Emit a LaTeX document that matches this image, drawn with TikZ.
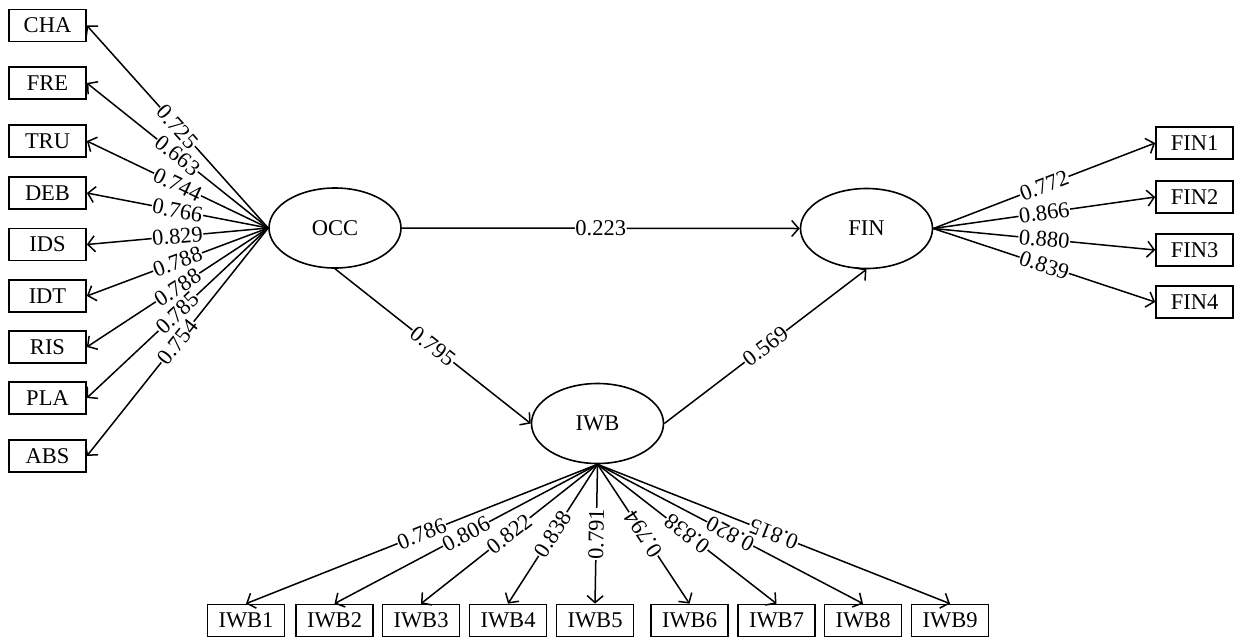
\documentclass[tikz,border=0pt]{standalone}
\usepackage{fontspec}
\setmainfont{Liberation Serif}
\usetikzlibrary{shapes.geometric,arrows.meta}
\begin{document}
\begin{tikzpicture}[x=1pt,y=-1pt,
  every node/.style={font=\fontsize{22.5}{26}\selectfont},
  ind/.style={draw,line width=1.7pt,minimum width=77pt,minimum height=32pt,inner sep=0pt},
  lat/.style={draw,ellipse,line width=1.6pt,minimum width=132pt,minimum height=80pt,inner sep=0pt},
  con/.style={line width=1.5pt,-{Straight Barb[length=7pt,width=16pt]}},
  rcon/.style={line width=1.5pt,{Straight Barb[length=7pt,width=16pt]}-},
  lbl/.style={fill=white,inner sep=0.6pt,sloped,allow upside down,midway}]
\useasboundingbox (0,0) rectangle (1234,638);
% latent variables
\node[lat] (OCC) at (335,228) {OCC};
\node[lat] (FIN) at (866.5,228.5) {FIN};
\node[lat] (IWB) at (597.5,423.5) {IWB};
% left indicators
\node[ind] (CHA) at (47.5,25.5) {CHA};
\node[ind] (FRE) at (47.5,83) {FRE};
\node[ind] (TRU) at (47.5,141) {TRU};
\node[ind] (DEB) at (47.5,193) {DEB};
\node[ind] (IDS) at (47.5,244.5) {IDS};
\node[ind] (IDT) at (47.5,296) {IDT};
\node[ind] (RIS) at (47.5,347) {RIS};
\node[ind] (PLA) at (47.5,398) {PLA};
\node[ind] (ABS) at (47.5,456) {ABS};
% FIN indicators
\node[ind] (FIN1) at (1194.5,143) {FIN1};
\node[ind] (FIN2) at (1194.5,197) {FIN2};
\node[ind] (FIN3) at (1194.5,250) {FIN3};
\node[ind] (FIN4) at (1194.5,302) {FIN4};
% IWB indicators
\node[ind] (IWB1) at (246,620.5) {IWB1};
\node[ind] (IWB2) at (334.5,620.5) {IWB2};
\node[ind] (IWB3) at (421,620.5) {IWB3};
\node[ind] (IWB4) at (508,620.5) {IWB4};
\node[ind] (IWB5) at (595,620.5) {IWB5};
\node[ind] (IWB6) at (689.5,620.5) {IWB6};
\node[ind] (IWB7) at (776.5,620.5) {IWB7};
\node[ind] (IWB8) at (863,620.5) {IWB8};
\node[ind] (IWB9) at (950,620.5) {IWB9};
% OCC loadings
\foreach \n/\v in {CHA/0.725,FRE/0.663,TRU/0.744,DEB/0.766,IDS/0.829,IDT/0.788,RIS/0.788,PLA/0.785,ABS/0.754}
  \draw[rcon] (\n.east) -- node[lbl] {\v} (OCC.west);
% FIN loadings
\foreach \n/\v in {FIN1/0.772,FIN2/0.866,FIN3/0.880,FIN4/0.839}
  \draw[con] (FIN.east) -- node[lbl] {\v} (\n.west);
% IWB loadings
\foreach \n/\v in {IWB1/0.786,IWB2/0.806,IWB3/0.822,IWB4/0.838,IWB5/0.791,IWB6/0.794,IWB7/0.838,IWB8/0.820,IWB9/0.815}
  \draw[rcon] (\n.north) -- node[lbl] {\v} (IWB.south);
% structural paths
\draw[con] (OCC.east) -- node[lbl] {0.223} (FIN.west);
\draw[con] (OCC.south) -- node[lbl] {0.795} (IWB.west);
\draw[con] (IWB.east) -- node[lbl] {0.569} (FIN.south);
\end{tikzpicture}
\end{document}
